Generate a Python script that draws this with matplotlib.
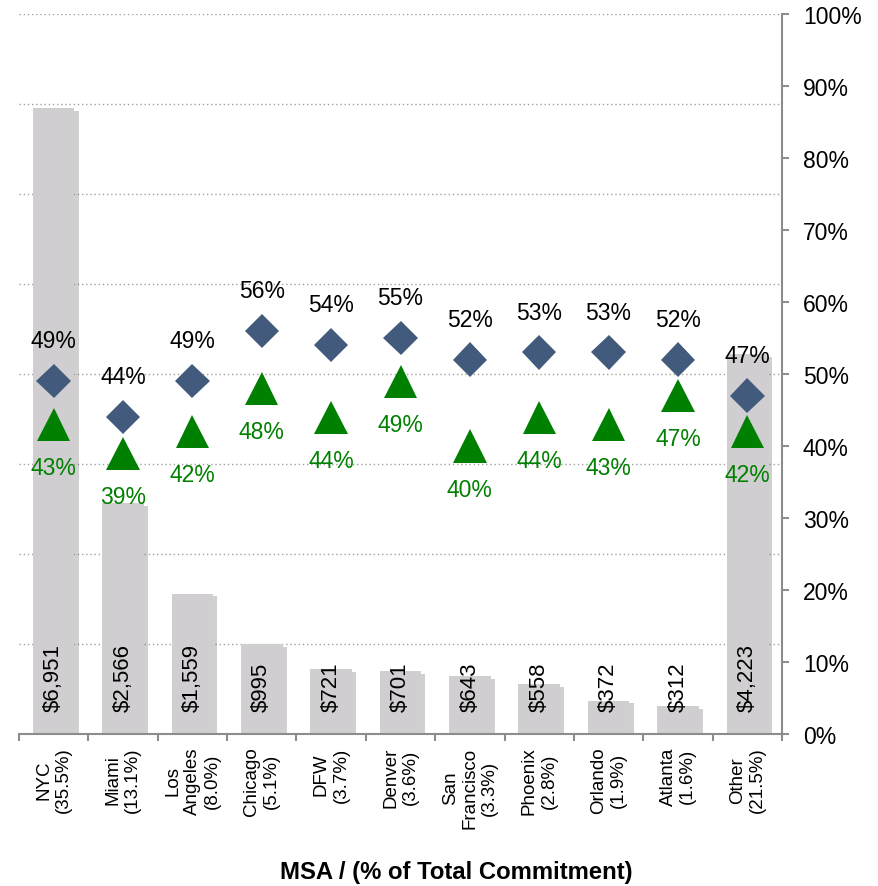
import matplotlib
matplotlib.use("Agg")
import matplotlib.pyplot as plt
import matplotlib.patheffects as pe
import numpy as np

plt.rcParams['font.family'] = ['Liberation Sans', 'DejaVu Sans']

categories = ["NYC\n(35.5%)", "Miami\n(13.1%)", "Los\nAngeles\n(8.0%)", "Chicago\n(5.1%)",
              "DFW\n(3.7%)", "Denver\n(3.6%)", "San\nFrancisco\n(3.3%)", "Phoenix\n(2.8%)",
              "Orlando\n(1.9%)", "Atlanta\n(1.6%)", "Other\n(21.5%)"]
commitment = [6951, 2566, 1559, 995, 721, 701, 643, 558, 372, 312, 4223]
diamond_vals = [0.49, 0.44, 0.49, 0.56, 0.54, 0.55, 0.52, 0.53, 0.53, 0.52, 0.47]
triangle_vals = [0.43, 0.39, 0.42, 0.48, 0.44, 0.49, 0.40, 0.44, 0.43, 0.47, 0.42]

gray = '#8C8C8C'
fig = plt.figure(figsize=(8.79, 8.87), dpi=100)
ax = fig.add_axes([19/879, 1-735/887, (782-19)/879, (735-15)/887])
x = np.arange(len(categories))

shadow = [pe.SimplePatchShadow(offset=(3, -2), shadow_rgbFace='#666666', alpha=0.3), pe.Normal()]
bars = ax.bar(x, commitment, width=0.6, color='#D0CED0', zorder=2)
for b in bars:
    b.set_path_effects(shadow)
ax.set_ylim(0, 8000)
ax.set_xlim(-0.5, len(categories) - 0.5)
ax.set_yticks(np.arange(1000, 8001, 1000))
ax.yaxis.grid(True, linestyle=(0, (1, 2)), color='#A0A0A0', linewidth=1.0, zorder=0)
ax.set_axisbelow(True)
for s in ['left', 'top', 'right']:
    ax.spines[s].set_visible(False)
ax.spines['bottom'].set_color(gray)
ax.spines['bottom'].set_linewidth(1.5)
ax.set_xticks(np.arange(-0.5, len(categories), 1.0))
ax.set_xticklabels([])
ax.tick_params(axis='x', which='major', direction='out', length=5, width=1.5, color=gray)
ax.set_xticks(x, minor=True)
ax.set_xticklabels(categories, minor=True, rotation=90, fontsize=13.5, ma='center', va='top', ha='center')
ax.tick_params(axis='x', which='minor', length=0, pad=9)

for xi, v in zip(x, commitment):
    ax.annotate(f"${v:,}", (xi, 0), xytext=(0, 16.5), textcoords='offset points',
                rotation=90, ha='center', va='bottom', fontsize=16, color='black', zorder=5)

ax2 = ax.twinx()
ax.tick_params(axis='y', which='both', left=False, right=False, labelleft=False, labelright=False)
ax2.set_ylim(0, 1.0)
ax2.set_yticks(np.arange(0, 1.01, 0.1))
ax2.set_yticklabels([f"{int(round(t*100))}%" for t in np.arange(0, 1.01, 0.1)], fontsize=16.5)
ax2.tick_params(axis='y', direction='out', length=5, width=1.5, color=gray, pad=10)
for s in ['left', 'top', 'bottom']:
    ax2.spines[s].set_visible(False)
ax2.spines['right'].set_color(gray)
ax2.spines['right'].set_linewidth(1.5)

mshadow = [pe.SimpleLineShadow(offset=(2.5, -2.5), shadow_color='#555555', alpha=0.35), pe.Normal()]
ax2.plot(x, diamond_vals, linestyle='none', marker='D', markersize=17.5, color='#425A7C',
         markeredgewidth=0, path_effects=mshadow, zorder=4)
ax2.plot(x, triangle_vals, linestyle='none', marker='^', markersize=24, color='#008000',
         markeredgewidth=0, path_effects=mshadow, zorder=4)
for xi, v in zip(x, diamond_vals):
    ax2.annotate(f"{int(round(v*100))}%", (xi, v), xytext=(0, 29), textcoords='offset points',
                 ha='center', va='center', fontsize=16.5, color='black')
for xi, v in zip(x, triangle_vals):
    ax2.annotate(f"{int(round(v*100))}%", (xi, v), xytext=(0, -31), textcoords='offset points',
                 ha='center', va='center', fontsize=16.5, color='#008000')

fig.text(0.519, 1-873/887, "MSA / (% of Total Commitment)", ha='center', va='center',
         fontsize=17.2, fontweight='bold')

fig.savefig("out.png", dpi=100)
